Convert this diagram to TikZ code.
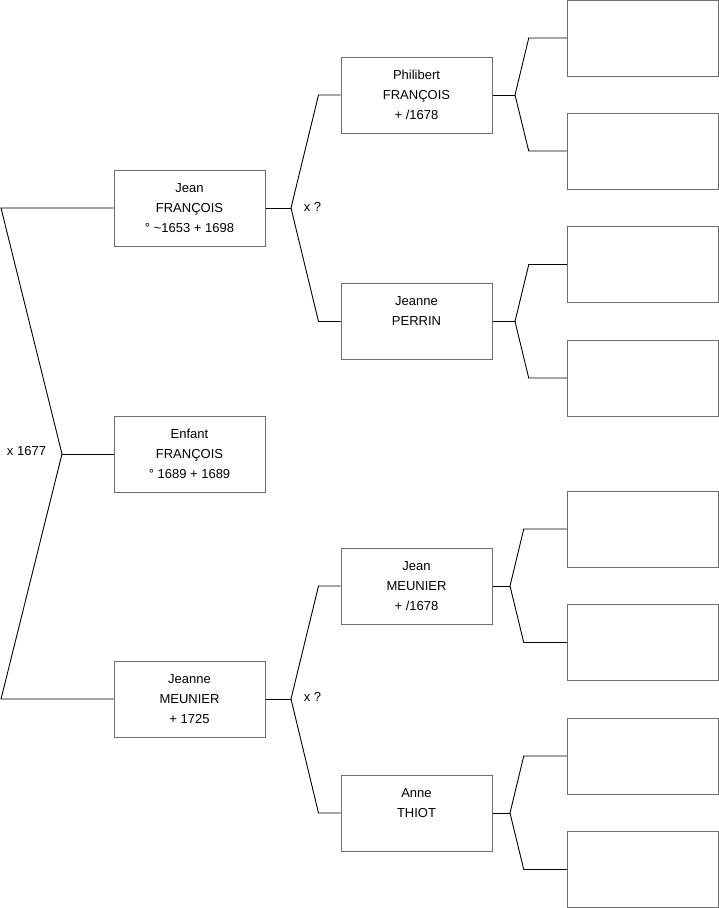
\documentclass[tikz,border=0pt]{standalone}
\usepackage{fontspec}
\setmainfont{Liberation Sans}
\definecolor{boxgray}{HTML}{6E6E6E}
\begin{document}
\begin{tikzpicture}[x=1pt,y=-1pt,
  pbox/.style={draw=boxgray, line width=1pt, minimum width=151pt, minimum height=76pt,
    inner sep=0pt, align=center, font=\fontsize{13}{20}\selectfont},
  link/.style={draw=black, line width=0.9pt},
  lbl/.style={inner sep=0pt, font=\fontsize{13}{15}\selectfont}]
\useasboundingbox (0,0) rectangle (719,908);
% generation 1
\node[pbox] (jf) at (189.5,208) {Jean\\FRANÇOIS\\° \textasciitilde1653 + 1698};
\node[pbox] (ef) at (189.5,454) {Enfant\\FRANÇOIS\\° 1689 + 1689};
\node[pbox] (jm) at (189.5,699) {Jeanne\\MEUNIER\\+ 1725};
% generation 2
\node[pbox] (ph) at (416.5,95) {Philibert\\FRANÇOIS\\+ /1678};
\node[pbox] (jp) at (416.5,321.5) {Jeanne\\PERRIN\\\mbox{}};
\node[pbox] (jme) at (416.5,586) {Jean\\MEUNIER\\+ /1678};
\node[pbox] (at) at (416.5,813) {Anne\\THIOT\\\mbox{}};
% generation 3
\node[pbox] (r1) at (642.75,38) {};
\node[pbox] (r2) at (642.75,151) {};
\node[pbox] (r3) at (642.75,264.5) {};
\node[pbox] (r4) at (642.75,378) {};
\node[pbox] (r5) at (642.75,529) {};
\node[pbox] (r6) at (642.75,642.5) {};
\node[pbox] (r7) at (642.75,756) {};
\node[pbox] (r8) at (642.75,869.5) {};
% labels
\node[lbl] (m0) at (26.5,451) {x 1677};
\node[lbl] (m1) at (312.5,207) {x ?};
\node[lbl] (m2) at (312.5,697) {x ?};
% forks
\coordinate (f0) at (62,454);
\coordinate (t0) at (1,208);
\coordinate (b0) at (1,699);
\draw[link] (jf.west) -- (t0) -- (f0) -- (b0) -- (jm.west);
\draw[link] (f0) -- (ef.west);

\coordinate (f1) at (291,208);
\draw[link] (jf.east) -- (f1);
\draw[link] (ph.west) -- ([xshift=-22pt]ph.west) -- (f1) -- ([xshift=-22pt]jp.west) -- (jp.west);

\coordinate (f2) at (291,699);
\draw[link] (jm.east) -- (f2);
\draw[link] (jme.west) -- ([xshift=-22pt]jme.west) -- (f2) -- ([xshift=-22pt]at.west) -- (at.west);

\coordinate (f3) at (515,95);
\draw[link] (ph.east) -- (f3);
\draw[link] (r1.west) -- ([xshift=-38pt]r1.west) -- (f3) -- ([xshift=-38pt]r2.west) -- (r2.west);

\coordinate (f4) at (515,321.5);
\draw[link] (jp.east) -- (f4);
\draw[link] (r3.west) -- ([xshift=-38pt]r3.west) -- (f4) -- ([xshift=-38pt]r4.west) -- (r4.west);

\coordinate (f5) at (510,586);
\draw[link] (jme.east) -- (f5);
\draw[link] (r5.west) -- ([xshift=-43pt]r5.west) -- (f5) -- ([xshift=-43pt]r6.west) -- (r6.west);

\coordinate (f6) at (510,813);
\draw[link] (at.east) -- (f6);
\draw[link] (r7.west) -- ([xshift=-43pt]r7.west) -- (f6) -- ([xshift=-43pt]r8.west) -- (r8.west);
\end{tikzpicture}
\end{document}
